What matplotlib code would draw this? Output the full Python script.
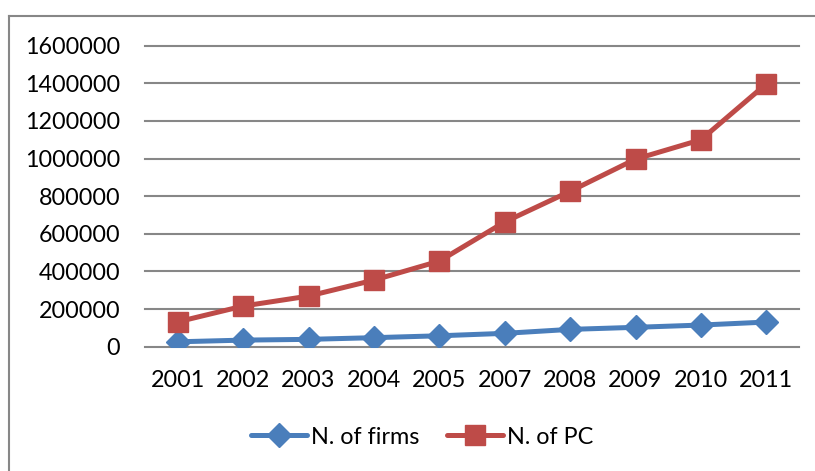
import matplotlib
matplotlib.use("Agg")
import matplotlib.pyplot as plt
from matplotlib.lines import Line2D

# data
years = ["2001", "2002", "2003", "2004", "2005", "2007", "2008", "2009", "2010", "2011"]
n_firms = [26000, 35000, 39000, 48000, 58000, 71000, 92000, 103000, 115000, 131000]
n_pc = [132000, 216000, 269000, 354000, 455000, 663000, 826000, 997000, 1100000, 1397000]
y_ticks = [0, 200000, 400000, 600000, 800000, 1000000, 1200000, 1400000, 1600000]

BLUE = "#4A7EBB"
RED = "#BE4B48"
GRID = "#878787"

plt.rcParams["font.family"] = ["Lato", "DejaVu Sans"]

fig = plt.figure(figsize=(8.15, 4.71), dpi=100)
ax = fig.add_axes([145 / 815, 1 - 346.7 / 471, 654 / 815, 301 / 471])

x = list(range(len(years)))
ax.plot(x, n_firms, color=BLUE, lw=3.6, marker="D", ms=12.5,
        label="N. of firms", solid_capstyle="round", zorder=3)
ax.plot(x, n_pc, color=RED, lw=3.6, marker="s", ms=14.5,
        label="N. of PC", solid_capstyle="round", zorder=3)

ax.set_xlim(-0.5, len(years) - 0.5)
ax.set_ylim(0, 1600000)
ax.set_yticks(y_ticks)
ax.set_yticklabels([str(v) for v in y_ticks])
ax.set_xticks(x)
ax.set_xticklabels(years)
ax.tick_params(axis="both", length=0, labelsize=16.8, colors="black")
ax.tick_params(axis="y", pad=18)
ax.tick_params(axis="x", pad=17)

for v in y_ticks:
    ax.axhline(v, color=GRID, lw=1.5, zorder=1, clip_on=False)
for s in ax.spines.values():
    s.set_visible(False)

fig.legend(loc="center", bbox_to_anchor=(0.518, 1 - 437 / 471), ncol=2,
           frameon=False, fontsize=16.8, handlelength=2.4, handletextpad=0.15,
           columnspacing=1.2)

# chart border (only left and top edges are visible in the crop)
fig.add_artist(Line2D([9 / 815, 9 / 815], [0, 1 - 16 / 471], color=GRID, lw=1.5,
                      transform=fig.transFigure))
fig.add_artist(Line2D([9 / 815, 1], [1 - 16 / 471, 1 - 16 / 471], color=GRID, lw=1.5,
                      transform=fig.transFigure))

fig.savefig("out.png", dpi=100)
